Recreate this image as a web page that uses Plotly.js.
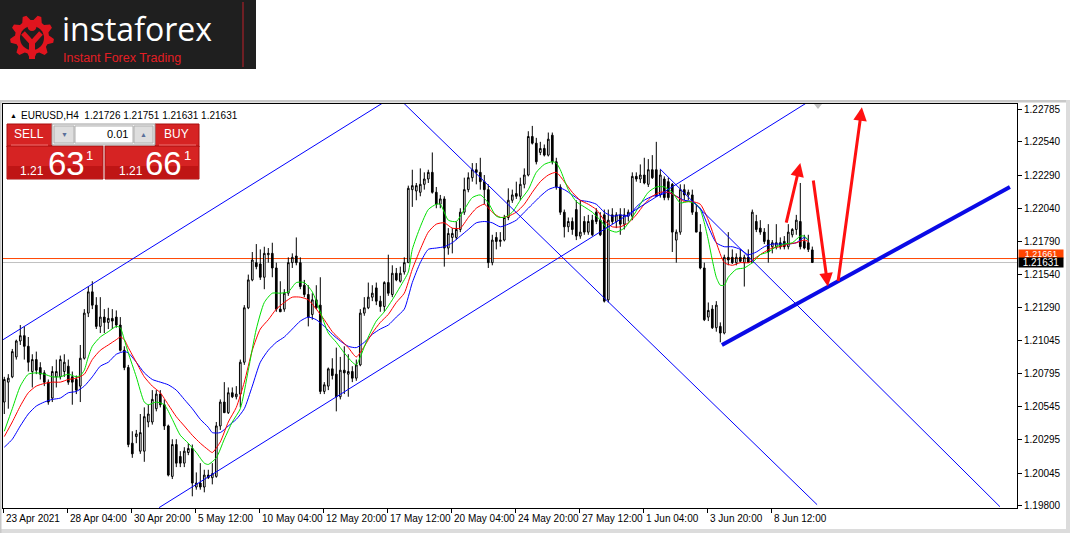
<!DOCTYPE html>
<html><head><meta charset="utf-8">
<script src="https://cdn.plot.ly/plotly-3.0.1.min.js"></script>
<style>html,body{margin:0;padding:0;background:#fff;}#chart{width:1070px;height:533px;}</style>
</head><body><div id="chart"></div>
<script>
// ---- EURUSD H4 candles (bar 0 = 23 Apr 2021 ... bar 202 = 10 Jun 04:00) ----
const openP=[
1.2058,1.2073,1.2077,1.2092,1.2104,1.2108,1.2100,1.2081,1.2090,1.2084,
1.2080,1.2073,1.2061,1.2077,1.2077,1.2081,1.2085,1.2077,1.2075,1.2070,
1.2091,1.2125,1.2141,1.2131,1.2115,1.2122,1.2118,1.2121,1.2122,1.2116,
1.2097,1.2084,1.2027,1.2032,1.2021,1.2021,1.2043,1.2043,1.2053,1.2064,
1.2056,1.2040,1.2002,1.2026,1.2017,1.2012,1.2020,1.2023,1.1994,1.1997,
1.1994,1.2003,1.2001,1.2002,1.2040,1.2058,1.2050,1.2065,1.2062,1.2064,
1.2088,1.2129,1.2150,1.2163,1.2162,1.2152,1.2169,1.2170,1.2159,1.2128,
1.2128,1.2140,1.2163,1.2168,1.2163,1.2146,1.2139,1.2124,1.2135,1.2131,
1.2066,1.2070,1.2083,1.2079,1.2062,1.2082,1.2079,1.2081,1.2076,1.2086,
1.2125,1.2129,1.2137,1.2144,1.2134,1.2130,1.2148,1.2139,1.2155,1.2149,
1.2156,1.2163,1.2218,1.2217,1.2216,1.2222,1.2226,1.2231,1.2216,1.2207,
1.2211,1.2174,1.2182,1.2182,1.2188,1.2201,1.2218,1.2227,1.2233,1.2231,
1.2224,1.2218,1.2163,1.2182,1.2179,1.2180,1.2197,1.2210,1.2215,1.2213,
1.2222,1.2229,1.2258,1.2253,1.2246,1.2249,1.2244,1.2259,1.2239,1.2220,
1.2201,1.2190,1.2194,1.2203,1.2183,1.2194,1.2186,1.2195,1.2201,1.2195,
1.2199,1.2135,1.2199,1.2194,1.2199,1.2192,1.2198,1.2198,1.2228,1.2226,
1.2229,1.2222,1.2233,1.2233,1.2214,1.2226,1.2224,1.2222,1.2180,1.2186,
1.2218,1.2214,1.2214,1.2201,1.2186,1.2159,1.2122,1.2128,1.2114,1.2115,
1.2110,1.2167,1.2167,1.2163,1.2167,1.2163,1.2167,1.2163,1.2194,1.2189,
1.2186,1.2180,1.2175,1.2175,1.2178,1.2179,1.2175,1.2184,1.2188,1.2194,
1.2179,1.2178,1.21726];
const highP=[
1.2077,1.2079,1.2098,1.2105,1.2116,1.2115,1.2107,1.2094,1.2096,1.2088,
1.2082,1.2075,1.2085,1.2090,1.2093,1.2094,1.2090,1.2081,1.2078,1.2101,
1.2128,1.2145,1.2149,1.2137,1.2137,1.2128,1.2129,1.2128,1.2127,1.2122,
1.2100,1.2086,1.2036,1.2037,1.2049,1.2054,1.2056,1.2067,1.2067,1.2067,
1.2060,1.2041,1.2030,1.2030,1.2021,1.2024,1.2027,1.2026,1.2005,1.2012,
1.2007,1.2007,1.2012,1.2043,1.2060,1.2073,1.2069,1.2069,1.2070,1.2090,
1.2131,1.2154,1.2171,1.2177,1.2173,1.2175,1.2174,1.2178,1.2163,1.2149,
1.2143,1.2167,1.2170,1.2182,1.2167,1.2150,1.2146,1.2140,1.2146,1.2152,
1.2073,1.2084,1.2091,1.2099,1.2092,1.2100,1.2094,1.2085,1.2090,1.2128,
1.2137,1.2148,1.2146,1.2148,1.2138,1.2149,1.2169,1.2161,1.2159,1.2160,
1.2167,1.2221,1.2233,1.2223,1.2234,1.2231,1.2233,1.2246,1.2220,1.2214,
1.2213,1.2189,1.2189,1.2194,1.2204,1.2227,1.2231,1.2238,1.2238,1.2242,
1.2229,1.2222,1.2184,1.2186,1.2186,1.2199,1.2219,1.2218,1.2224,1.2227,
1.2234,1.2262,1.2266,1.2257,1.2254,1.2252,1.2261,1.2261,1.2242,1.2222,
1.2203,1.2197,1.2197,1.2210,1.2210,1.2198,1.2199,1.2199,1.2204,1.2201,
1.2203,1.2203,1.2204,1.2201,1.2204,1.2204,1.2203,1.2231,1.2231,1.2237,
1.2242,1.2241,1.2244,1.2254,1.2233,1.2228,1.2227,1.2223,1.2188,1.2222,
1.2222,1.2218,1.2218,1.2207,1.2192,1.2163,1.2133,1.2131,1.2134,1.2118,
1.2169,1.2186,1.2173,1.2170,1.2173,1.2169,1.2173,1.2203,1.2199,1.2195,
1.2189,1.2192,1.2180,1.2192,1.2182,1.2183,1.2192,1.2189,1.2199,1.2223,
1.2184,1.2184,1.21751];
const lowP=[
1.2049,1.2053,1.2076,1.2090,1.2101,1.2090,1.2081,1.2069,1.2079,1.2075,
1.2070,1.2056,1.2058,1.2069,1.2075,1.2077,1.2071,1.2056,1.2064,1.2058,
1.2090,1.2122,1.2128,1.2113,1.2110,1.2110,1.2113,1.2113,1.2114,1.2096,
1.2082,1.2024,1.2016,1.2027,1.2019,1.2013,1.2039,1.2041,1.2051,1.2054,
1.2037,1.2002,1.2000,1.2009,1.2009,1.2009,1.2018,1.1987,1.1992,1.1992,
1.1990,1.2000,1.1996,1.2001,1.2037,1.2050,1.2049,1.2061,1.2060,1.2054,
1.2086,1.2128,1.2149,1.2158,1.2150,1.2143,1.2163,1.2152,1.2126,1.2126,
1.2126,1.2138,1.2159,1.2161,1.2143,1.2137,1.2115,1.2120,1.2128,1.2064,
1.2064,1.2067,1.2075,1.2051,1.2060,1.2064,1.2062,1.2073,1.2074,1.2085,
1.2123,1.2128,1.2134,1.2131,1.2126,1.2126,1.2138,1.2137,1.2149,1.2148,
1.2154,1.2163,1.2205,1.2210,1.2213,1.2218,1.2223,1.2215,1.2204,1.2204,
1.2160,1.2169,1.2170,1.2180,1.2186,1.2199,1.2216,1.2224,1.2222,1.2218,
1.2207,1.2159,1.2161,1.2173,1.2175,1.2179,1.2195,1.2208,1.2211,1.2210,
1.2219,1.2228,1.2252,1.2237,1.2244,1.2243,1.2243,1.2237,1.2218,1.2199,
1.2182,1.2186,1.2184,1.2180,1.2181,1.2184,1.2184,1.2183,1.2192,1.2183,
1.2133,1.2133,1.2192,1.2189,1.2184,1.2188,1.2194,1.2195,1.2224,1.2223,
1.2222,1.2220,1.2226,1.2213,1.2212,1.2210,1.2210,1.2171,1.2163,1.2184,
1.2210,1.2210,1.2199,1.2186,1.2158,1.2119,1.2119,1.2113,1.2111,1.2103,
1.2109,1.2161,1.2162,1.2161,1.2163,1.2145,1.2163,1.2163,1.2186,1.2184,
1.2177,1.2163,1.2170,1.2173,1.2173,1.2173,1.2173,1.2182,1.2184,1.2173,
1.2173,1.2171,1.21631];
const closeP=[
1.2075,1.2076,1.2096,1.2104,1.2108,1.2100,1.2088,1.2090,1.2082,1.2079,
1.2073,1.2058,1.2081,1.2081,1.2090,1.2088,1.2073,1.2073,1.2067,1.2091,
1.2125,1.2141,1.2131,1.2115,1.2122,1.2118,1.2121,1.2119,1.2116,1.2097,
1.2084,1.2026,1.2019,1.2034,1.2035,1.2047,1.2049,1.2060,1.2064,1.2056,
1.2040,1.2003,1.2026,1.2012,1.2012,1.2021,1.2023,1.1997,1.1997,1.1994,
1.2003,1.2001,1.2004,1.2040,1.2058,1.2050,1.2065,1.2062,1.2064,1.2088,
1.2129,1.2150,1.2165,1.2160,1.2152,1.2170,1.2170,1.2159,1.2128,1.2126,
1.2140,1.2163,1.2167,1.2163,1.2145,1.2139,1.2122,1.2135,1.2129,1.2066,
1.2071,1.2083,1.2078,1.2062,1.2082,1.2080,1.2081,1.2076,1.2086,1.2125,
1.2129,1.2137,1.2140,1.2134,1.2130,1.2148,1.2140,1.2155,1.2150,1.2155,
1.2163,1.2219,1.2221,1.2221,1.2222,1.2226,1.2231,1.2216,1.2207,1.2211,
1.2174,1.2185,1.2185,1.2188,1.2201,1.2218,1.2227,1.2233,1.2231,1.2224,
1.2218,1.2163,1.2180,1.2179,1.2180,1.2197,1.2210,1.2214,1.2213,1.2222,
1.2229,1.2258,1.2253,1.2239,1.2249,1.2244,1.2256,1.2239,1.2220,1.2201,
1.2190,1.2194,1.2188,1.2183,1.2186,1.2186,1.2194,1.2184,1.2194,1.2184,
1.2134,1.2195,1.2194,1.2199,1.2192,1.2199,1.2201,1.2228,1.2226,1.2229,
1.2223,1.2233,1.2227,1.2213,1.2229,1.2212,1.2212,1.2186,1.2186,1.2218,
1.2214,1.2216,1.2201,1.2186,1.2159,1.2120,1.2127,1.2114,1.2131,1.2110,
1.2167,1.2165,1.2163,1.2167,1.2164,1.2167,1.2163,1.2201,1.2188,1.2186,
1.2179,1.2171,1.2178,1.2178,1.2175,1.2175,1.2186,1.2188,1.2195,1.2175,
1.2174,1.2173,1.21631];

// ---- moving averages (bar index, price) ----
const greenX=[0,2,4,6,8,10,12,14,16,18,19,20,21,22,24,26,28,29,30,31,33,35,36,38,40,42,44,46,48,50,51,53,55,57,59,61,63,65,67,69,71,73,75,77,79,81,83,85,87,88,89,91,93,95,97,99,101,102,104,106,108,109,111,113,115,117,119,121,123,125,127,129,131,133,135,137,138,139,141,143,145,147,149,151,153,155,157,159,161,163,165,167,169,171,173,174,175,176,177,178,179,180,181,183,185,187,189,191,193,195,197,199,200,201];
const greenY=[1.2036,1.2053,1.2070,1.2079,1.2080,1.2079,1.2077,1.2077,1.2079,1.2077,1.2078,1.2082,1.2092,1.2100,1.2107,1.2111,1.2115,1.2114,1.2105,1.2095,1.2077,1.2058,1.2056,1.2058,1.2056,1.2045,1.2033,1.2027,1.2020,1.2012,1.2011,1.2016,1.2030,1.2043,1.2053,1.2082,1.2113,1.2133,1.2140,1.2140,1.2141,1.2148,1.2148,1.2141,1.2126,1.2110,1.2103,1.2095,1.2088,1.2086,1.2092,1.2107,1.2119,1.2126,1.2135,1.2145,1.2156,1.2173,1.2190,1.2203,1.2207,1.2207,1.2195,1.2194,1.2203,1.2212,1.2214,1.2208,1.2198,1.2197,1.2201,1.2210,1.2218,1.2231,1.2237,1.2239,1.2238,1.2233,1.2218,1.2209,1.2205,1.2201,1.2195,1.2188,1.2186,1.2189,1.2197,1.2207,1.2216,1.2220,1.2220,1.2216,1.2208,1.2209,1.2207,1.2203,1.2193,1.2180,1.2165,1.2152,1.2146,1.2146,1.2152,1.2158,1.2159,1.2163,1.2169,1.2171,1.2175,1.2177,1.2178,1.2183,1.2183,1.2180];
const redX=[0,2,4,6,8,10,12,14,16,18,20,22,24,26,28,29,30,31,33,35,37,39,41,43,45,47,49,51,52,54,56,58,60,62,64,66,68,70,72,74,76,78,80,82,84,86,88,90,92,94,96,98,100,102,104,106,108,110,112,114,116,118,120,122,124,126,128,130,132,134,136,138,140,142,144,146,148,150,152,154,156,158,160,162,164,166,168,170,172,174,176,178,180,182,184,186,188,190,192,194,196,198,200,201];
const redY=[1.2032,1.2043,1.2055,1.2065,1.2070,1.2072,1.2073,1.2073,1.2075,1.2076,1.2079,1.2090,1.2097,1.2101,1.2105,1.2107,1.2105,1.2099,1.2088,1.2077,1.2070,1.2065,1.2056,1.2047,1.2040,1.2033,1.2027,1.2022,1.2020,1.2028,1.2043,1.2054,1.2073,1.2097,1.2113,1.2120,1.2128,1.2133,1.2137,1.2137,1.2135,1.2128,1.2120,1.2111,1.2105,1.2099,1.2092,1.2100,1.2110,1.2118,1.2124,1.2133,1.2140,1.2158,1.2173,1.2186,1.2192,1.2193,1.2189,1.2189,1.2197,1.2204,1.2207,1.2201,1.2197,1.2198,1.2201,1.2207,1.2216,1.2224,1.2229,1.2231,1.2224,1.2216,1.2210,1.2207,1.2203,1.2195,1.2190,1.2190,1.2193,1.2199,1.2207,1.2213,1.2216,1.2216,1.2213,1.2209,1.2209,1.2207,1.2195,1.2178,1.2163,1.2161,1.2163,1.2163,1.2167,1.2171,1.2174,1.2175,1.2177,1.2178,1.2180,1.2179];
const blueX=[0,2,4,6,8,10,12,14,16,18,20,22,24,26,28,30,31,33,35,37,39,41,43,45,47,49,51,52,54,56,58,60,62,64,66,68,70,72,74,76,78,80,82,84,86,88,90,92,94,96,98,100,102,104,106,108,110,112,114,116,118,120,122,124,126,128,130,132,134,136,138,140,142,144,146,148,150,152,154,156,158,160,162,164,166,168,170,172,174,176,178,180,182,184,186,188,190,192,194,196,198,200,201];
const blueY=[1.2024,1.2030,1.2040,1.2049,1.2055,1.2058,1.2060,1.2061,1.2065,1.2066,1.2070,1.2077,1.2085,1.2088,1.2094,1.2096,1.2095,1.2088,1.2080,1.2075,1.2073,1.2071,1.2067,1.2060,1.2053,1.2045,1.2039,1.2035,1.2035,1.2040,1.2045,1.2053,1.2070,1.2088,1.2097,1.2103,1.2107,1.2113,1.2119,1.2122,1.2120,1.2115,1.2109,1.2104,1.2100,1.2099,1.2103,1.2109,1.2113,1.2116,1.2122,1.2128,1.2148,1.2163,1.2173,1.2174,1.2175,1.2178,1.2183,1.2188,1.2193,1.2194,1.2193,1.2190,1.2192,1.2195,1.2201,1.2207,1.2213,1.2218,1.2220,1.2218,1.2214,1.2210,1.2209,1.2207,1.2201,1.2198,1.2199,1.2198,1.2205,1.2210,1.2213,1.2214,1.2216,1.2213,1.2210,1.2209,1.2204,1.2190,1.2178,1.2175,1.2175,1.2173,1.2169,1.2171,1.2175,1.2177,1.2177,1.2177,1.2178,1.2182,1.2180];

// ---- axis labels ----
const xTickBars=[0,16,32,48,64,80,96,112,128,144,160,176,192];
const xTickLabels=['23 Apr 2021','28 Apr 04:00','30 Apr 20:00','5 May 12:00','10 May 04:00','12 May 20:00','17 May 12:00','20 May 04:00','24 May 20:00','27 May 12:00','1 Jun 04:00','3 Jun 20:00','8 Jun 12:00'];
const yTickVals=[1.22785,1.22540,1.22290,1.22040,1.21790,1.21540,1.21290,1.21045,1.20795,1.20545,1.20295,1.20045,1.19800];

// ---- quote & drawn objects (bar index, price) ----
const bidPrice=1.21631, askPrice=1.21661;
const headerText='EURUSD,H4  1.21726 1.21751 1.21631 1.21631';
const channelLines=[[-0.3,1.2105,95,1.2284],[38.7,1.19785,200.4,1.2283],[99.9,1.2283,203.2,1.19807],[163.9,1.22337,248.9,1.19792]];
const supportLine=[179.4,1.2101,251.4,1.2220];
const arrowsRed=[[195.4,1.2192,199.0,1.2238],[202.2,1.2226,205.9,1.2145],[208.4,1.2148,214.4,1.2280]];

const bars=openP.map((_,i)=>i);
const FONT='Liberation Sans, Arial, sans-serif';
const L=3,R=53,T=104,B=25,W=1070,H=533,PW=W-L-R,PH=H-T-B;
const P=x=>(x-L)/PW, Q=y=>(H-B-y)/PH;

const traces=[
 {type:'candlestick',x:bars,open:openP,high:highP,low:lowP,close:closeP,
  increasing:{line:{color:'#000',width:1},fillcolor:'#fff'},
  decreasing:{line:{color:'#000',width:1},fillcolor:'#000'},
  whiskerwidth:0,hoverinfo:'skip',showlegend:false},
 {type:'scatter',mode:'lines',x:blueX,y:blueY,line:{color:'#0000ff',width:1,shape:'spline',smoothing:0.6},hoverinfo:'skip'},
 {type:'scatter',mode:'lines',x:redX,y:redY,line:{color:'#ff0000',width:1,shape:'spline',smoothing:0.6},hoverinfo:'skip'},
 {type:'scatter',mode:'lines',x:greenX,y:greenY,line:{color:'#00e000',width:1,shape:'spline',smoothing:0.6},hoverinfo:'skip'}
];

const shapes=[];
const ann=[];
function rect(x0,y0,x1,y1,fill,lc,lw){shapes.push({type:'rect',xref:'paper',yref:'paper',x0:P(x0),x1:P(x1),y0:Q(y1),y1:Q(y0),fillcolor:fill,line:{color:lc||fill,width:lw===undefined?0:lw},layer:'above'});}
function pline(x0,y0,x1,y1,c,w){shapes.push({type:'line',xref:'paper',yref:'paper',x0:P(x0),x1:P(x1),y0:Q(y0),y1:Q(y1),line:{color:c,width:w||1},layer:'above'});}
function txt(x,y,t,size,color,xa,fam,extra){ann.push(Object.assign({xref:'paper',yref:'paper',x:P(x),y:Q(y),text:t,showarrow:false,font:{size:size,color:color,family:fam||FONT},xanchor:xa||'center',yanchor:'middle'},extra||{}));}

// horizontal quote lines
shapes.push({type:'line',xref:'paper',x0:0,x1:1,yref:'y',y0:bidPrice,y1:bidPrice,line:{color:'#c0c0c0',width:1},layer:'below'});
shapes.push({type:'line',xref:'paper',x0:0,x1:1,yref:'y',y0:askPrice,y1:askPrice,line:{color:'#ff4500',width:1},layer:'below'});
// trend/channel lines
channelLines.forEach(l=>shapes.push({type:'line',xref:'x',yref:'y',x0:l[0],y0:l[1],x1:l[2],y1:l[3],line:{color:'#0000ff',width:1}}));
shapes.push({type:'line',xref:'x',yref:'y',x0:supportLine[0],y0:supportLine[1],x1:supportLine[2],y1:supportLine[3],line:{color:'#0a0ae6',width:4}});
// red arrows
arrowsRed.forEach(a=>ann.push({xref:'x',yref:'y',axref:'x',ayref:'y',x:a[2],y:a[3],ax:a[0],ay:a[1],text:'',showarrow:true,arrowhead:2,arrowsize:0.9,arrowwidth:3,arrowcolor:'#ff1010'}));

// window frame decorations
rect(0,100,1070,102.5,'#c8c8c8');
rect(0,529,1070,533,'#dcdcdc');
rect(1066,100,1070,533,'#dcdcdc');
rect(0,100,1.5,533,'#c8c8c8');
// small marker at top
shapes.push({type:'path',xref:'paper',yref:'paper',path:'M'+P(814)+','+Q(104)+'L'+P(822)+','+Q(104)+'L'+P(818)+','+Q(109)+'Z',fillcolor:'#c0c0c0',line:{width:0}});

// logo
rect(0,0,256,69,'#1f1f1f');
pline(243,2,243,67,'#c0202a',1);
(function(){const cx=32,cy=37,ro=22,ri=17,n=9*4;let s='';for(let k=0;k<n;k++){const a=(k+0.5)/n*2*Math.PI-Math.PI/2;const r=(k%4===1||k%4===2)?ro:ri;const x=cx+r*Math.cos(a),y=cy+r*Math.sin(a);s+=(k?'L':'M')+P(x)+','+Q(y);}s+='Z';shapes.push({type:'path',xref:'paper',yref:'paper',path:s,fillcolor:'#e0141e',line:{width:0}});})();
shapes.push({type:'circle',xref:'paper',yref:'paper',x0:P(20),x1:P(44),y0:Q(50),y1:Q(26),fillcolor:'#1f1f1f',line:{width:0}});
shapes.push({type:'circle',xref:'paper',yref:'paper',x0:P(27.5),x1:P(36.5),y0:Q(31),y1:Q(22),fillcolor:'#e0141e',line:{width:0}});
shapes.push({type:'path',xref:'paper',yref:'paper',path:'M'+P(23)+','+Q(33)+'L'+P(32)+','+Q(43)+'L'+P(41)+','+Q(33),line:{color:'#e0141e',width:5}});
pline(32,42,32,59,'#e0141e',6);
txt(61,28,'instaforex',32,'#ffffff','left','Open Sans, Lato, sans-serif',{borderpad:0});
txt(62,57.5,'Instant Forex Trading',12.5,'#e31e24','left',FONT,{borderpad:0});

// header of chart window
txt(8,115,'▲',7,'#000','left');
txt(19,115,headerText,10,'#000','left');

// one-click trading panel
rect(7,124,52,147,'#d62323','#a80f0f',1);
rect(7,146,103,179,'#d62323','#a80f0f',1);
rect(8,166,102,178,'#bf1515');
rect(155,124,199,147,'#d62323','#a80f0f',1);
rect(105,146,199,179,'#d62323','#a80f0f',1);
rect(106,166,198,178,'#bf1515');
pline(11,145,48,145,'#ee7070',1);
pline(159,145,196,145,'#ee7070',1);
rect(52,124,155,145,'#f0f0f0','#a0a0a0',1);
rect(54,126,74,143,'#dedede','#b0b0b0',1);
rect(75,126,133,143,'#ffffff','#b0b0b0',1);
rect(134,126,153,143,'#dedede','#b0b0b0',1);
txt(64,134.5,'▼',7,'#5a6f9a');
txt(143.5,134.5,'▲',7,'#5a6f9a');
txt(130,134.5,'0.01',11,'#000','right');
txt(29,134,'SELL',12,'#ffffff');
txt(176,134,'BUY',12,'#ffffff');
txt(32,171,'1.21',12,'#ffffff');
txt(66,163,'63',33,'#ffffff');
txt(89,155,'1',13,'#ffffff');
txt(131,171,'1.21',12,'#ffffff');
txt(163,163,'66',33,'#ffffff');
txt(187,155,'1',13,'#ffffff');

// x-axis labels (left aligned at ticks)
xTickBars.forEach((b,i)=>ann.push({xref:'x',yref:'paper',x:b-0.3,y:0,text:xTickLabels[i],showarrow:false,xanchor:'left',yanchor:'top',xshift:1,yshift:-3,font:{size:10,color:'#000',family:FONT}}));
// price labels on the scale (ask label tucked just above the bid label)
ann.push({xref:'paper',yref:'y',x:P(1041),y:askPrice,yshift:5,text:askPrice.toFixed(5),showarrow:false,bgcolor:'#ff4500',font:{size:9,color:'#fff',family:FONT},width:44,height:8,borderpad:0,xanchor:'center',yanchor:'middle'});
ann.push({xref:'paper',yref:'y',x:P(1041),y:bidPrice,text:bidPrice.toFixed(5),showarrow:false,bgcolor:'#000',font:{size:10,color:'#fff',family:FONT},width:44,height:9,borderpad:0,xanchor:'center',yanchor:'middle'});

const layout={
 width:W,height:H,margin:{l:L,r:R,t:T,b:B,pad:0},
 paper_bgcolor:'#ffffff',plot_bgcolor:'#ffffff',showlegend:false,boxgap:0.4,
 xaxis:{range:[-0.325,253.175],showgrid:false,zeroline:false,showline:true,linecolor:'#000',linewidth:1,mirror:true,
   ticks:'outside',ticklen:4,tickcolor:'#000',tickvals:xTickBars.map(b=>b-0.3),showticklabels:false,rangeslider:{visible:false},fixedrange:true},
 yaxis:{range:[1.19782,1.22825],side:'right',showgrid:false,zeroline:false,showline:true,linecolor:'#000',linewidth:1,mirror:true,
   ticks:'outside',ticklen:4,tickcolor:'#000',tickvals:yTickVals,ticktext:yTickVals.map(v=>v.toFixed(5)),
   tickfont:{size:10,color:'#000',family:FONT},fixedrange:true},
 shapes:shapes,annotations:ann
};
Plotly.newPlot('chart',traces,layout,{staticPlot:true,displayModeBar:false});
</script>
</body></html>
